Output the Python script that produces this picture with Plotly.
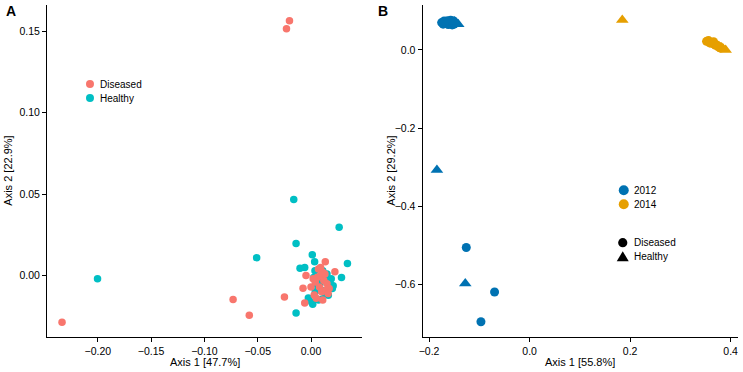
import plotly.graph_objects as go

# ---------- Panel A data ----------
dis_x = [-0.0202, -0.0230, -0.2336, -0.0731, -0.0579, -0.0249, -0.0047, -0.0075, -0.0059, 0.0134,
         0.0224, 0.0070, 0.0090, 0.0110, 0.0060, 0.0120, 0.0150, 0.0080, 0.0000, 0.0030,
         0.0100, 0.0140, 0.0050, 0.0170, 0.0110, 0.0090, 0.0040, 0.0130, 0.0160, 0.0020]
dis_y = [0.1564, 0.1515, -0.0287, -0.0147, -0.0244, -0.0131, 0.0000, -0.0078, -0.0168, 0.0084,
         0.0023, 0.0040, 0.0050, 0.0020, -0.0010, -0.0030, -0.0050, -0.0070, -0.0070, -0.0120,
         -0.0100, -0.0090, -0.0140, -0.0080, -0.0150, 0.0000, -0.0040, 0.0010, -0.0110, -0.0020]

hea_x = [-0.2003, -0.0510, -0.0162, -0.0140, 0.0264, 0.0342, 0.0286, -0.0140, 0.0012, -0.0103,
         -0.0059, 0.0034, 0.0037, 0.0025, -0.0025, 0.0006, 0.0016, 0.0100, 0.0084, 0.0109,
         0.0177, 0.0208, 0.0162, 0.0100, 0.0150, 0.0060, 0.0190, 0.0130, 0.0070, 0.0110,
         0.0200, 0.0040, 0.0145, 0.0085]
hea_y = [-0.0020, 0.0110, 0.0467, 0.0196, 0.0297, 0.0074, -0.0012, -0.0229, 0.0127, 0.0045,
         0.0049, 0.0084, 0.0029, -0.0012, -0.0137, -0.0162, -0.0176, -0.0145, -0.0049, -0.0004,
         -0.0043, -0.0063, -0.0121, -0.0090, 0.0010, -0.0060, -0.0020, -0.0110, -0.0150, 0.0030,
         -0.0080, -0.0100, -0.0030, -0.0020]

# ---------- Panel B data ----------
c12_dis_x = [-0.1260, -0.0697, -0.0968, -0.175, -0.172, -0.168, -0.165, -0.162, -0.160, -0.158,
             -0.156, -0.154, -0.152, -0.150, -0.148, -0.170, -0.163, -0.157, -0.151]
c12_dis_y = [-0.505, -0.619, -0.695, 0.070, 0.066, 0.072, 0.068, 0.065, 0.071, 0.067,
             0.073, 0.064, 0.070, 0.066, 0.069, 0.074, 0.075, 0.076, 0.074]
c12_hea_x = [-0.1844, -0.1280, -0.146, -0.142, -0.150]
c12_hea_y = [-0.307, -0.597, 0.068, 0.066, 0.073]

c14_dis_x = [0.352, 0.356, 0.360, 0.362, 0.365, 0.368, 0.370, 0.372, 0.375, 0.378, 0.380, 0.358, 0.366, 0.374]
c14_dis_y = [0.022, 0.024, 0.020, 0.017, 0.018, 0.014, 0.012, 0.013, 0.009, 0.007, 0.005, 0.018, 0.021, 0.011]
c14_hea_x = [0.1844, 0.385, 0.390, 0.382]
c14_hea_y = [0.0768, 0.003, 0.000, 0.006]

# tick labels
a_xticks = [-0.20, -0.15, -0.10, -0.05, 0.00]
a_xtext = ["−0.20", "−0.15", "−0.10", "−0.05", "0.00"]
a_yticks = [0.00, 0.05, 0.10, 0.15]
a_ytext = ["0.00", "0.05", "0.10", "0.15"]
b_xticks = [-0.2, 0.0, 0.2, 0.4]
b_xtext = ["−0.2", "0.0", "0.2", "0.4"]
b_yticks = [-0.6, -0.4, -0.2, 0.0]
b_ytext = ["−0.6", "−0.4", "−0.2", "0.0"]

RED, TEAL, BLUE, ORANGE = "#F8766D", "#00BFC4", "#0072B2", "#E69F00"
FONT = "Liberation Sans, Arial, Helvetica, sans-serif"

W, H = 743, 372
ML, MR, MT, MB = 47, 4.7, 5, 35.3
PW, PH = W - ML - MR, H - MT - MB


def px(xp):
    return (xp - ML) / PW


def py(yp):
    return (H - MB - yp) / PH


fig = go.Figure()
fig.add_trace(go.Scatter(x=hea_x, y=hea_y, mode="markers", name="Healthy", showlegend=False,
                         marker=dict(color=TEAL, size=7.5), xaxis="x", yaxis="y"))
fig.add_trace(go.Scatter(x=dis_x, y=dis_y, mode="markers", name="Diseased", showlegend=False,
                         marker=dict(color=RED, size=7.5), xaxis="x", yaxis="y"))

fig.add_trace(go.Scatter(x=c12_dis_x, y=c12_dis_y, mode="markers", showlegend=False,
                         marker=dict(color=BLUE, size=9, symbol="circle"), xaxis="x2", yaxis="y2"))
fig.add_trace(go.Scatter(x=c12_hea_x, y=c12_hea_y, mode="markers", showlegend=False,
                         marker=dict(color=BLUE, size=11, symbol="triangle-up"), xaxis="x2", yaxis="y2"))
fig.add_trace(go.Scatter(x=c14_dis_x, y=c14_dis_y, mode="markers", showlegend=False,
                         marker=dict(color=ORANGE, size=9, symbol="circle"), xaxis="x2", yaxis="y2"))
fig.add_trace(go.Scatter(x=c14_hea_x, y=c14_hea_y, mode="markers", showlegend=False,
                         marker=dict(color=ORANGE, size=11, symbol="triangle-up"), xaxis="x2", yaxis="y2"))

axis_common = dict(showgrid=False, zeroline=False, showline=True, linecolor="black", linewidth=1,
                   ticks="outside", ticklen=4, tickcolor="black", automargin=False,
                   tickfont=dict(family=FONT, size=10.5, color="black"))

shapes = []
annotations = []


def legend_circle(x, y, color, r=4.2):
    shapes.append(dict(type="circle", xref="paper", yref="paper", xsizemode="pixel", ysizemode="pixel",
                       xanchor=px(x), yanchor=py(y), x0=-r, x1=r, y0=-r, y1=r,
                       fillcolor=color, line=dict(width=0)))


def legend_triangle(x, y, color):
    shapes.append(dict(type="path", xref="paper", yref="paper", xsizemode="pixel", ysizemode="pixel",
                       xanchor=px(x), yanchor=py(y), path="M -6,-4.5 L 6,-4.5 L 0,5.5 Z",
                       fillcolor=color, line=dict(width=0)))


def text(x, y, s, size=10, xanchor="left", angle=0, bold=False):
    annotations.append(dict(text=f"<b>{s}</b>" if bold else s, x=px(x), y=py(y), xref="paper", yref="paper",
                            xanchor=xanchor, yanchor="middle", showarrow=False, textangle=angle,
                            font=dict(family=FONT, size=size, color="black")))


# legend A
legend_circle(90, 84, RED, 4)
legend_circle(90, 98, TEAL, 4)
text(98, 84, "Diseased")
text(98, 98, "Healthy")
# legend B (year)
legend_circle(624, 190, BLUE, 5)
legend_circle(624, 204, ORANGE, 5)
text(632, 190, "2012")
text(632, 204, "2014")
# legend B (status)
legend_circle(623, 242.5, "black", 4.6)
legend_triangle(623, 256.5, "black")
text(632, 242.5, "Diseased")
text(632, 256.5, "Healthy")

# axis titles
text(204.6, 361.5, "Axis 1 [47.7%]", size=11, xanchor="center")
text(580.5, 361.5, "Axis 1 [55.8%]", size=11, xanchor="center")
text(8.5, 171, "Axis 2 [22.9%]", size=11, xanchor="center", angle=-90)
text(391.7, 171, "Axis 2 [29.2%]", size=11, xanchor="center", angle=-90)
# panel labels
text(4, 11, "A", size=14, bold=True)
text(376, 11, "B", size=14, bold=True)

fig.update_layout(
    width=W, height=H, margin=dict(l=ML, r=MR, t=MT, b=MB, pad=0),
    paper_bgcolor="white", plot_bgcolor="white", showlegend=False,
    font=dict(family=FONT, size=10, color="black"),
    xaxis=dict(domain=[0, px(362.3)], range=[-0.2477, 0.048], tickvals=a_xticks, ticktext=a_xtext,
               anchor="y", **axis_common),
    yaxis=dict(domain=[0, 1], range=[-0.0377, 0.166], tickvals=a_yticks, ticktext=a_ytext,
               anchor="x", **axis_common),
    xaxis2=dict(domain=[px(422.7), 1], range=[-0.213, 0.4146], tickvals=b_xticks, ticktext=b_xtext,
                anchor="y2", **axis_common),
    yaxis2=dict(domain=[0, 1], range=[-0.734, 0.115], tickvals=b_yticks, ticktext=b_ytext,
                anchor="x2", **axis_common),
    shapes=shapes,
    annotations=annotations,
)

fig.write_html("out.html", config={"displayModeBar": False},
               post_script="document.body.style.margin='0';document.body.style.overflow='hidden';")
